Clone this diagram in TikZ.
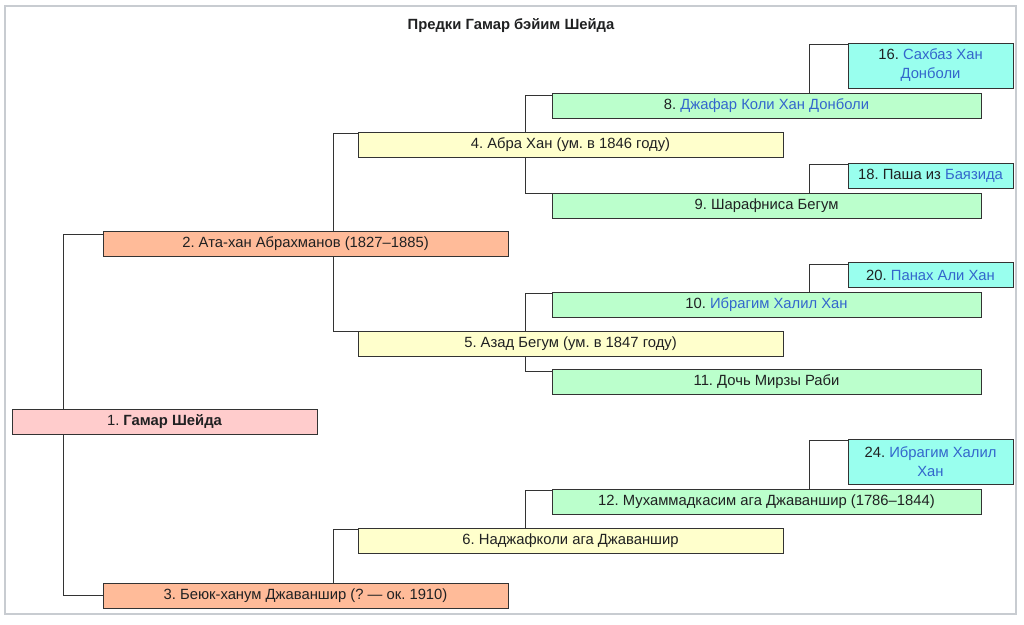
\documentclass[tikz,border=0pt]{standalone}
\usepackage{fontspec}
\setmainfont{Liberation Sans}
\usetikzlibrary{backgrounds}
\frenchspacing
\definecolor{ink}{HTML}{202122}
\definecolor{linkblue}{HTML}{3366CC}
\definecolor{boxline}{HTML}{333333}
\definecolor{frameline}{HTML}{C8CCD1}
\definecolor{pinkfill}{HTML}{FFCCCC}
\definecolor{orangefill}{HTML}{FFBB99}
\definecolor{yellowfill}{HTML}{FFFFCC}
\definecolor{greenfill}{HTML}{BBFFCC}
\definecolor{cyanfill}{HTML}{99FFEE}
\tikzset{person/.style = {draw=boxline, line width=1pt, inner sep=0pt,
                          minimum height=25pt, text=ink, align=center,
                          font=\fontsize{14.8}{19}\selectfont}}
\tikzset{gen1/.style = {person, fill=pinkfill, minimum width=305pt}}
\tikzset{gen2/.style = {person, fill=orangefill, minimum width=405pt}}
\tikzset{gen3/.style = {person, fill=yellowfill, minimum width=425pt}}
\tikzset{gen4/.style = {person, fill=greenfill, minimum width=429pt}}
\tikzset{gen5/.style = {person, fill=cyanfill, minimum width=165pt}}
\tikzset{kin/.style = {draw=boxline, line width=0.9pt}}
\newcommand{\wl}[1]{\textcolor{linkblue}{#1}}

\begin{document}
\begin{tikzpicture}[x=1pt, y=-1pt]
      \useasboundingbox (0, 0) rectangle (1024, 624);
      \draw [frameline, line width=1.5pt] (5, 6) rectangle (1016, 614);
      \node (title) [text=ink, font=\fontsize{14.8}{17}\selectfont\bfseries] at (511, 25.5) {Предки Гамар бэйим Шейда};
      \node (b1) [gen1] at (164.5, 422) {1. \textbf{Гамар Шейда}};
      \node (b2) [gen2] at (305.5, 244) {2. Ата-хан Абрахманов (1827–1885)};
      \node (b3) [gen2] at (305.5, 595.5) {3. Беюк-ханум Джаваншир (? — ок. 1910)};
      \node (b4) [gen3] at (570.5, 144.5) {4. Абра Хан (ум. в 1846 году)};
      \node (b5) [gen3] at (570.5, 343.5) {5. Азад Бегум (ум. в 1847 году)};
      \node (b6) [gen3] at (570.5, 540.5) {6. Наджафколи ага Джаваншир};
      \node (b8) [gen4] at (766.5, 105.5) {8. \wl{Джафар Коли Хан Донболи}};
      \node (b9) [gen4] at (766.5, 205.5) {9. Шарафниса Бегум};
      \node (b10) [gen4] at (766.5, 304.5) {10. \wl{Ибрагим Халил Хан}};
      \node (b11) [gen4] at (766.5, 382) {11. Дочь Мирзы Раби};
      \node (b12) [gen4] at (766.5, 501.5) {12. Мухаммадкасим ага Джаваншир (1786–1844)};
      \node (b16) [gen5, minimum height=45pt] at (930.5, 65.5) {16. \wl{Сахбаз Хан}\\\wl{Донболи}};
      \node (b18) [gen5] at (930.5, 175.5) {18. Паша из \wl{Баязида}};
      \node (b20) [gen5] at (930.5, 275) {20. \wl{Панах Али Хан}};
      \node (b24) [gen5, minimum height=45pt] at (930.5, 461.5) {24. \wl{Ибрагим Халил}\\\wl{Хан}};
      \begin{pgfonlayer}{background}
        \draw [kin] ([yshift=-3]b2.north west) -| ([xshift=52]b1.west) |- (b3.west);
        \draw [kin] ([yshift=-2]b4.north west) -| ([xshift=-24, yshift=-1]b5.north west) -- ([yshift=-1]b5.north west);
        \draw [kin] ([yshift=-2]b6.north west) -| ([xshift=231]b3.north west);
        \draw [kin] ([yshift=-3]b8.north west) -| ([xshift=-26, yshift=-1]b9.north west) -- ([yshift=-1]b9.north west);
        \draw [kin] ([yshift=-2]b10.north west) -| ([xshift=-26, yshift=-2]b11.north west) -- ([yshift=-2]b11.north west);
        \draw [kin] ([yshift=-2]b12.north west) -| ([xshift=168]b6.north west);
        \draw [kin] ([yshift=-2]b16.north west) -| ([xshift=258]b8.north west);
        \draw [kin] ([yshift=-2]b18.north west) -| ([xshift=258]b9.north west);
        \draw [kin] ([yshift=-2]b20.north west) -| ([xshift=258]b10.north west);
        \draw [kin] ([yshift=-2]b24.north west) -| ([xshift=258]b12.north west);
      \end{pgfonlayer}
    \end{tikzpicture}
\end{document}
